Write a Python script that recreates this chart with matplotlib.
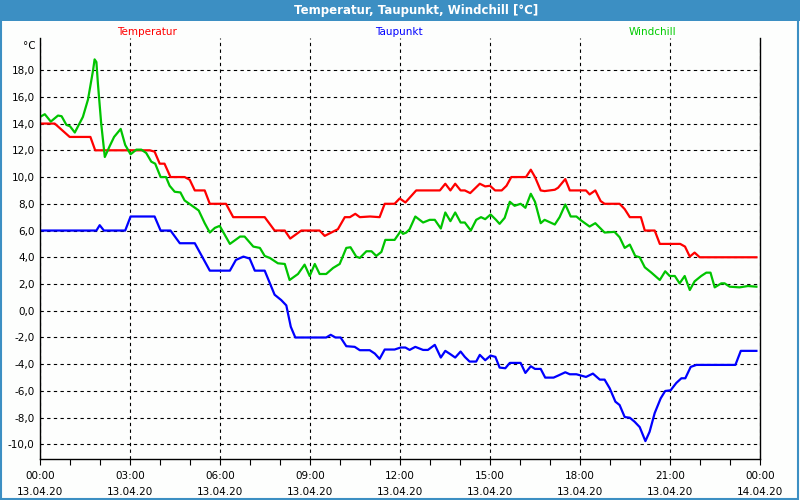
import numpy as np
import matplotlib.pyplot as plt
from matplotlib.patches import Rectangle

plt.rcParams['font.family'] = 'DejaVu Sans'
plt.rcParams['font.size'] = 7.5

# hours since 13.04.20 00:00, values in degC
temp_h = [0, 0.49, 0.99, 1.68, 1.84, 3.66, 3.82, 3.99, 4.15, 4.35, 4.82, 4.99, 5.16, 5.49,
          5.66, 6.2, 6.44, 7.49, 7.82, 8.16, 8.34, 8.71, 9.32, 9.49, 9.93, 10.16, 10.33,
          10.51, 10.66, 11.0, 11.32, 11.49, 11.82, 11.99, 12.18, 12.54, 13.33, 13.51, 13.68,
          13.84, 14.02, 14.16, 14.34, 14.66, 14.84, 15.0, 15.17, 15.39, 15.55, 15.71, 16.2,
          16.36, 16.5, 16.69, 16.82, 17.16, 17.27, 17.51, 17.66, 18.2, 18.32, 18.51, 18.69,
          18.82, 19.32, 19.49, 19.66, 20.03, 20.16, 20.49, 20.66, 21.34, 21.5, 21.66, 21.82,
          21.99, 23.88]
temp_v = [14.0, 14.0, 13.0, 13.0, 12.0, 12.0, 11.9, 11.0, 11.0, 10.0, 10.0, 9.8, 9.0, 9.0,
          8.0, 8.0, 7.0, 7.0, 6.0, 6.0, 5.4, 6.0, 6.0, 5.6, 6.1, 7.0, 7.0,
          7.25, 7.0, 7.05, 7.0, 8.0, 8.0, 8.4, 8.1, 9.0, 9.0, 9.5, 9.0,
          9.5, 9.0, 9.0, 8.8, 9.5, 9.3, 9.35, 9.0, 9.0, 9.35, 10.0, 10.0,
          10.55, 10.0, 9.0, 8.95, 9.05, 9.2, 9.85, 9.0, 9.0, 8.7, 9.0, 8.2,
          8.0, 8.0, 7.6, 7.0, 7.0, 6.0, 6.0, 5.0, 5.0, 4.8, 4.05, 4.35,
          4.0, 4.0]

wind_h = [0, 0.16, 0.36, 0.6, 0.72, 0.88, 1.0, 1.16, 1.43, 1.6, 1.77, 1.82, 1.88, 1.93,
          2.04, 2.16, 2.32, 2.47, 2.69, 2.84, 3.02, 3.21, 3.38, 3.54, 3.71, 3.84, 4.02,
          4.2, 4.32, 4.49, 4.68, 4.82, 5.1, 5.29, 5.49, 5.66, 5.83, 5.99, 6.33, 6.67, 6.82,
          7.11, 7.33, 7.49, 7.66, 7.93, 8.16, 8.32, 8.6, 8.82, 8.99, 9.16, 9.32, 9.54, 9.77,
          9.99, 10.21, 10.35, 10.54, 10.66, 10.88, 11.05, 11.21, 11.38, 11.51, 11.82, 12.02,
          12.1, 12.21, 12.32, 12.51, 12.77, 12.99, 13.16, 13.36, 13.51, 13.68, 13.84, 14.02,
          14.16, 14.36, 14.54, 14.7, 14.84, 15.02, 15.2, 15.32, 15.49, 15.66, 15.82, 16.02,
          16.18, 16.36, 16.5, 16.69, 16.82, 17.16, 17.32, 17.51, 17.69, 17.88, 18.04, 18.32,
          18.51, 18.82, 19.15, 19.32, 19.49, 19.66, 19.84, 19.99, 20.16, 20.38, 20.66, 20.84,
          20.99, 21.16, 21.32, 21.49, 21.66, 21.82, 22.04, 22.21, 22.35, 22.49, 22.71, 22.82,
          22.99, 23.32, 23.6, 23.88]
wind_v = [14.5, 14.7, 14.15, 14.6, 14.55, 13.9, 13.8, 13.33, 14.5, 15.8, 18.0, 18.8, 18.6, 17.0,
          14.0, 11.5, 12.3, 13.0, 13.6, 12.4, 11.7, 12.05, 12.05, 11.8, 11.15, 11.0, 10.0,
          10.0, 9.35, 8.9, 8.85, 8.25, 7.8, 7.5, 6.55, 5.85, 6.2, 6.35, 5.0, 5.55, 5.55,
          4.8, 4.7, 4.1, 3.95, 3.55, 3.5, 2.3, 2.75, 3.45, 2.6, 3.5, 2.75, 2.75, 3.2,
          3.5, 4.7, 4.75, 4.05, 3.95, 4.45, 4.45, 4.1, 4.4, 5.3, 5.3, 5.95,
          5.75, 5.85, 6.1, 7.05, 6.6, 6.8, 6.8, 6.15, 7.35, 6.7, 7.35, 6.6,
          6.6, 6.0, 6.8, 7.0, 6.85, 7.2, 6.8, 6.5, 6.95, 8.15, 7.85, 8.0,
          7.7, 8.75, 8.15, 6.55, 6.8, 6.45, 7.0, 7.95, 7.05, 7.05, 6.75, 6.3,
          6.55, 5.85, 5.9, 5.5, 4.7, 4.95, 4.1, 4.0, 3.25, 2.85, 2.3, 2.95,
          2.6, 2.6, 2.05, 2.6, 1.55, 2.2, 2.6, 2.85, 2.85, 1.75, 2.05, 2.05,
          1.8, 1.75, 1.85, 1.8]

dew_h = [0, 1.88, 1.99, 2.13, 2.84, 3.02, 3.82, 4.02, 4.35, 4.66, 5.16, 5.66, 6.33, 6.53,
         6.78, 6.99, 7.16, 7.49, 7.82, 8.04, 8.21, 8.36, 8.51, 9.54, 9.69, 9.85, 10.02,
         10.21, 10.49, 10.66, 10.99, 11.16, 11.32, 11.49, 11.82, 12.02, 12.18, 12.32, 12.51,
         12.77, 12.93, 13.16, 13.36, 13.51, 13.68, 13.84, 14.02, 14.16, 14.32, 14.54, 14.66,
         14.84, 15.02, 15.18, 15.32, 15.51, 15.66, 16.02, 16.18, 16.36, 16.5, 16.69, 16.84,
         17.12, 17.27, 17.51, 17.66, 17.88, 18.04, 18.2, 18.43, 18.66, 18.82, 18.99, 19.18,
         19.32, 19.49, 19.66, 19.82, 19.99, 20.18, 20.32, 20.49, 20.69, 20.84, 21.02, 21.21,
         21.38, 21.51, 21.69, 21.88, 23.18, 23.36, 23.88]
dew_v = [6.0, 6.0, 6.4, 6.0, 6.0, 7.05, 7.05, 6.0, 6.0, 5.05, 5.05, 3.0, 3.0, 3.8,
         4.05, 3.9, 3.0, 3.0, 1.2, 0.8, 0.4, -1.2, -2.0, -2.0, -1.8, -2.0, -2.0,
         -2.65, -2.7, -2.95, -2.95, -3.2, -3.6, -2.9, -2.9, -2.75, -2.75, -2.93, -2.7,
         -2.93, -2.93, -2.55, -3.5, -3.0, -3.25, -3.5, -3.05, -3.45, -3.8, -3.8, -3.3,
         -3.7, -3.35, -3.45, -4.25, -4.3, -3.9, -3.9, -4.65, -4.15, -4.35, -4.35, -5.0,
         -5.0, -4.85, -4.6, -4.75, -4.75, -4.85, -4.95, -4.7, -5.15, -5.15, -5.8, -6.8,
         -7.05, -7.95, -8.0, -8.3, -8.7, -9.75, -9.05, -7.65, -6.55, -6.0, -5.95, -5.4,
         -5.05, -5.05, -4.2, -4.05, -4.05, -3.0, -3.0]

x_ticks = [0, 3, 6, 9, 12, 15, 18, 21, 24]
x_labels = ['00:00\n13.04.20', '03:00\n13.04.20', '06:00\n13.04.20', '09:00\n13.04.20',
            '12:00\n13.04.20', '15:00\n13.04.20', '18:00\n13.04.20', '21:00\n13.04.20',
            '00:00\n14.04.20']
y_ticks = [-10, -8, -6, -4, -2, 0, 2, 4, 6, 8, 10, 12, 14, 16, 18]
y_labels = ['%.1f' % v for v in y_ticks]
y_labels = [s.replace('.', ',') for s in y_labels]

bar_col = '#3c8fc3'
bg = '#fdfefd'

fig = plt.figure(figsize=(8, 5), dpi=100, facecolor=bg)
ax = fig.add_axes([0.05, 0.083, 0.90, 0.841], facecolor=bg)

ax.plot(temp_h, temp_v, color='#ff0000', lw=1.6)
ax.plot(wind_h, wind_v, color='#00c400', lw=1.6)
ax.plot(dew_h, dew_v, color='#0000ff', lw=1.6)

ax.set_xlim(0, 24)
ax.set_ylim(-11.05, 20.4)
ax.set_xticks(x_ticks)
ax.set_xticklabels(x_labels, linespacing=1.75)
ax.set_xticks(np.arange(0, 25, 1), minor=True)
ax.set_yticks(y_ticks)
ax.set_yticklabels(y_labels)
ax.tick_params(axis='x', which='both', length=4, width=0.8, pad=5, labelsize=7.5)
ax.tick_params(axis='y', length=0, pad=4, labelsize=7.5)

ax.set_axisbelow(True)
ax.grid(True, color='black', linestyle=(0, (3, 3)), linewidth=0.8)
ax.spines['top'].set_visible(False)
for s in ['left', 'right', 'bottom']:
    ax.spines[s].set_linewidth(1.0)

# title bar and frame
fig.patches.append(Rectangle((0, 1 - 21 / 500), 1, 21 / 500, transform=fig.transFigure,
                             facecolor=bar_col, edgecolor='none'))
fig.patches.append(Rectangle((0.001, 0.002), 0.997, 0.996, transform=fig.transFigure,
                             fill=False, edgecolor=bar_col, lw=1.5))
fig.text(416 / 800, 1 - 10.5 / 500, 'Temperatur, Taupunkt, Windchill [°C]', color='white',
         fontsize=8.5, fontweight='bold', ha='center', va='center')

fig.text(147 / 800, 1 - 32 / 500, 'Temperatur', color='#ff0000', ha='center', va='center')
fig.text(399 / 800, 1 - 32 / 500, 'Taupunkt', color='#0000ff', ha='center', va='center')
fig.text(652 / 800, 1 - 32 / 500, 'Windchill', color='#00cc00', ha='center', va='center')
fig.text(36 / 800, 1 - 46 / 500, '°C', ha='right', va='center')

plt.savefig('out.png', dpi=100, facecolor=bg)
